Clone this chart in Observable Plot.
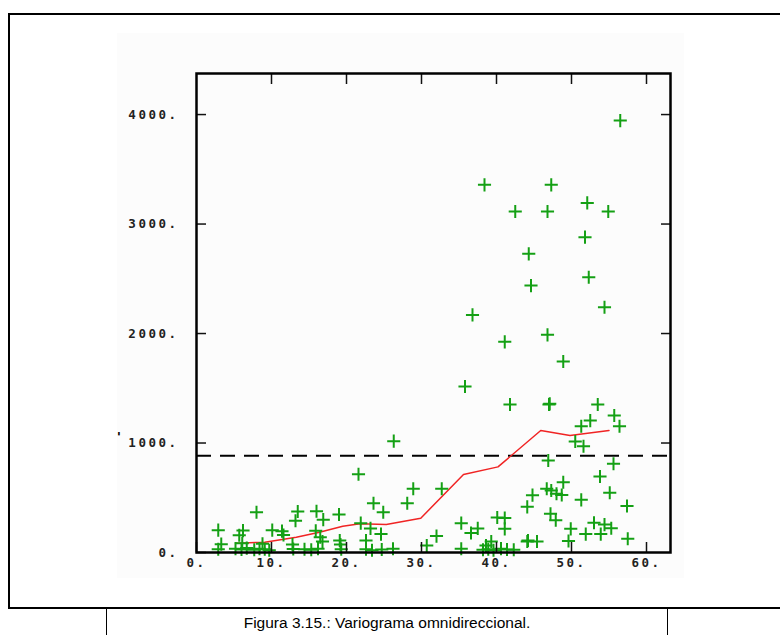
<!DOCTYPE html>
<html>
<head>
<meta charset="utf-8">
<script src="https://cdn.jsdelivr.net/npm/d3@7"></script>
<script src="https://cdn.jsdelivr.net/npm/@observablehq/plot@0.6"></script>
<style>
  html, body { margin: 0; padding: 0; background: #fff; }
  #page { position: relative; width: 780px; height: 635px; overflow: hidden; background: #fff; }
  #sheet { position: absolute; left: 8px; top: 13px; width: 800px; height: 592px; border: 2px solid #000; }
  #panel { position: absolute; left: 117px; top: 33px; width: 567px; height: 545px; background: #fcfcfc; }
  #chart { position: absolute; left: 0; top: 0; }
  #caption { position: absolute; left: 106px; top: 609px; width: 560px; height: 26px;
    border-left: 1.5px solid #000; border-right: 1.5px solid #000;
    font: 15.5px "Liberation Sans", Arial, sans-serif; color: #000; text-align: center; line-height: 27px; }
  #chart g[aria-label$="tick label"] text { letter-spacing: 2.5px; }
  #stray { position: absolute; left: 115px; top: 429px; font: bold 13px "DejaVu Sans Mono", monospace; color: #000; }
</style>
</head>
<body>
<div id="page">
  <div id="sheet"></div>
  <div id="panel"></div>
  <span id="stray">'</span>
  <div id="chart"></div>
  <div id="caption">Figura 3.15.: Variograma omnidireccional.</div>
</div>
<script>
// Cloud of pair semivariances: separation distance h and half squared difference
const pairDist = [
  56.5, 38.4, 47.3, 42.5, 46.8, 52.1, 54.9, 51.8, 44.3, 52.3, 44.6, 54.4, 36.8, 46.8, 41.1,
  48.9, 35.8, 41.8, 47.0, 47.1, 53.5, 55.7, 52.5, 51.3, 56.4, 50.5, 51.6, 26.3, 46.9, 55.6,
  48.9, 53.8, 21.6,
  28.9, 32.7, 28.1, 23.6, 24.9, 8.0, 13.5, 13.2, 16.0, 16.9, 19.0, 21.9, 23.2, 24.6, 22.6,
  2.9, 6.2, 5.7, 10.1, 11.4, 11.6, 15.9, 16.5, 12.8, 16.8, 19.1, 19.2, 3.3, 6.1, 8.8,
  30.7, 32.0, 35.3, 36.6, 37.5, 38.6, 39.3, 40.1, 41.1, 41.1, 44.1, 44.8, 44.1, 44.2, 45.4,
  46.7, 47.3, 48.0, 48.7, 47.2, 47.9, 51.3, 49.6, 49.9, 51.9, 53.0, 53.9, 54.4, 55.3, 55.1,
  57.4, 57.5,
  2.9, 5.2, 6.0, 6.7, 7.7, 8.4, 9.1, 9.7, 12.9, 14.4, 15.3, 16.2, 19.3, 22.6, 23.4,
  24.7, 26.2, 35.3, 38.2, 38.9, 39.6, 40.6, 41.4, 42.3
];
const pairGamma = [
  3945, 3358, 3358, 3114, 3114, 3193, 3114, 2880, 2728, 2514, 2438, 2240, 2170, 1988, 1924,
  1744, 1516, 1352, 1352, 1358, 1352, 1251, 1205, 1153, 1153, 1014, 971, 1017, 840, 810,
  642, 694, 715,
  582, 582, 450, 450, 368, 368, 375, 290, 377, 300, 347, 268, 220, 168, 110,
  204, 200, 158, 204, 195, 160, 198, 140, 73, 100, 110, 73, 76, 85, 80,
  64, 150, 268, 178, 220, 64, 100, 320, 315, 216, 417, 524, 100, 110, 100,
  582, 566, 536, 525, 353, 295, 481, 105, 216, 168, 272, 168, 255, 222, 546,
  425, 125,
  30, 35, 28, 40, 25, 35, 30, 20, 32, 30, 25, 35, 30, 30, 20,
  28, 34, 34, 25, 30, 20, 35, 28, 25
];

// Experimental omnidirectional variogram (mean lag distance, semivariance)
const lagDist = [5.2, 9.1, 13.3, 16.4, 19.5, 21.8, 25.3, 29.9, 35.6, 40.2, 45.9, 49.8, 55.0];
const lagGamma = [85, 94, 140, 185, 240, 262, 256, 313, 712, 782, 1114, 1068, 1114];

// Sample variance (sill reference)
const sill = [883];

// Axis ticks
const xTicks = [0, 10, 20, 30, 40, 50, 60];
const yTicks = [0, 1000, 2000, 3000, 4000];

const cloud = pairDist.map((h, i) => ({h, g: pairGamma[i]}));
const experimental = lagDist.map((h, i) => ({h, g: lagGamma[i]}));

const labelFont = {
  fontFamily: "'DejaVu Sans Mono', monospace",
  fontSize: 12.5,
  fontWeight: "bold",
  fill: "#222"
};
const dotLabel = d => d + ".";

const chart = Plot.plot({
  width: 780,
  height: 607,
  marginLeft: 196,
  marginRight: 110,
  marginTop: 73,
  marginBottom: 55,
  style: {background: "transparent", overflow: "visible"},
  x: {domain: [0, 63.2], label: null},
  y: {domain: [0, 4375], label: null},
  marks: [
    Plot.ruleY(sill, {stroke: "#000", strokeWidth: 2, strokeDasharray: "15,9"}),
    Plot.line(experimental, {x: "h", y: "g", stroke: "#f02424", strokeWidth: 1.5}),
    Plot.dot(cloud, {x: "h", y: "g", symbol: "plus", r: 4.3, stroke: "#14a014", strokeWidth: 2}),
    // inward ticks on all four sides
    Plot.axisX(xTicks, {anchor: "bottom", tickSize: 10, dy: -10, tickFormat: () => "", label: null, stroke: "#111", strokeWidth: 1.5}),
    Plot.axisX(xTicks.slice(1), {anchor: "top", tickSize: 10, dy: 10, tickFormat: () => "", label: null, stroke: "#111", strokeWidth: 1.5}),
    Plot.axisY(yTicks, {anchor: "left", tickSize: 10, dx: 10, tickFormat: () => "", label: null, stroke: "#111", strokeWidth: 1.5}),
    Plot.axisY(yTicks.slice(1), {anchor: "right", tickSize: 10, dx: -10, tickFormat: () => "", label: null, stroke: "#111", strokeWidth: 1.5}),
    // tick labels
    Plot.axisX(xTicks, {anchor: "bottom", tickSize: 0, tickPadding: 6, tickFormat: dotLabel, label: null, ...labelFont}),
    Plot.axisY(yTicks, {anchor: "left", tickSize: 0, tickPadding: 18, tickFormat: dotLabel, label: null, ...labelFont}),
    Plot.frame({stroke: "#000", strokeWidth: 2.5})
  ]
});

document.getElementById("chart").appendChild(chart);
</script>
</body>
</html>
